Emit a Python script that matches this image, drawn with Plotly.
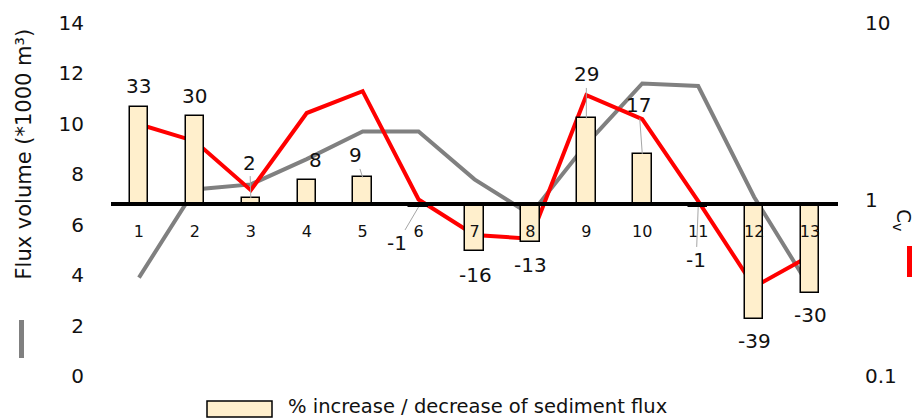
import plotly.graph_objects as go

# ---- data -------------------------------------------------------------
categories = ["1", "2", "3", "4", "5", "6", "7", "8", "9", "10", "11", "12", "13"]
flux_volume = [3.9, 7.4, 7.6, 8.6, 9.7, 9.7, 7.8, 6.4, 9.2, 11.6, 11.5, 7.1, 3.5]
cv_values = [2.67, 2.14, 1.13, 3.09, 4.11, 1.0, 0.63, 0.60, 3.9, 2.85, 0.98, 0.32, 0.48]
pct_change = [33, 30, 2, 8, 9, -1, -16, -13, 29, 17, -1, -39, -30]
left_ticks = [0, 2, 4, 6, 8, 10, 12, 14]
right_ticks = [0.1, 1, 10]
right_tick_text = ["0.1", "1", "10"]

# ---- layout geometry (pixels) ----------------------------------------
W, H = 915, 418
M_L, M_R, M_T, M_B = 111, 77, 23, 42
PW, PH = W - M_L - M_R, H - M_T - M_B
BASE_Y = 204                      # pixel row of the 0 % line
BASE_FRAC = (H - M_B - BASE_Y) / PH
PX_PER_PCT = 2.95
pct_lo = -BASE_FRAC * PH / PX_PER_PCT
pct_hi = pct_lo + PH / PX_PER_PCT


def px_x(px):
    return (px - M_L) / PW


def px_y(py):
    return (H - M_B - py) / PH


FONT = "DejaVu Sans"
TXT = "#111111"
BAR_FILL = "#FFEFCC"
GREY = "#808080"
RED = "#FF0000"

x_pos = list(range(1, len(categories) + 1))

fig = go.Figure()

fig.add_trace(go.Scatter(
    x=x_pos, y=flux_volume, mode="lines", yaxis="y",
    line=dict(color=GREY, width=4), showlegend=False, hoverinfo="skip"))

fig.add_trace(go.Scatter(
    x=x_pos, y=cv_values, mode="lines", yaxis="y2",
    line=dict(color=RED, width=4), showlegend=False, hoverinfo="skip"))

fig.add_trace(go.Bar(
    x=x_pos, y=pct_change, yaxis="y3", width=0.33,
    marker=dict(color=BAR_FILL, line=dict(color="#000000", width=1.5)),
    showlegend=False, hoverinfo="skip"))

# label offsets (ax, ay) in pixels from each bar end; leader flag draws a grey line
label_offsets = [(0, -21), (0, -20), (-1, -35.5), (8.5, -20), (-7, -22),
                 (-21.5, 36.5), (0.5, 23.5), (0, 23), (0, -44), (-3.5, -49),
                 (-2, 53.5), (0, 21.5), (0, 22.5)]
leaders = [False, False, True, False, True, True, False, False, True, True,
           True, False, False]

annotations = []
for xi, v, (ax, ay), lead in zip(x_pos, pct_change, label_offsets, leaders):
    annotations.append(dict(
        x=xi, y=v, xref="x", yref="y3", text=str(v),
        showarrow=True, arrowhead=0, arrowwidth=1, standoff=0,
        arrowcolor="#A6A6A6" if lead else "rgba(0,0,0,0)",
        ax=ax, ay=ay, axref="pixel", ayref="pixel",
        font=dict(family=FONT, size=20, color=TXT)))

# axis titles
annotations.append(dict(
    x=px_x(23), y=px_y(154.5), xref="paper", yref="paper",
    xanchor="center", yanchor="middle",
    text="Flux volume (*1000 m³)", textangle=-90, showarrow=False,
    font=dict(family=FONT, size=21, color=TXT)))
annotations.append(dict(
    x=px_x(903), y=px_y(220), xref="paper", yref="paper",
    xanchor="center", yanchor="middle",
    text="C<sub>v</sub>", textangle=90, showarrow=False,
    font=dict(family=FONT, size=20, color=TXT)))
# legend text
annotations.append(dict(
    x=px_x(286), y=px_y(406), xref="paper", yref="paper",
    xanchor="left", yanchor="middle",
    text="% increase / decrease of sediment flux", showarrow=False,
    font=dict(family=FONT, size=19.5, color=TXT)))

shapes = [
    # series keys beside the axis titles
    dict(type="line", xref="paper", yref="paper",
         x0=px_x(21.5), x1=px_x(21.5), y0=px_y(320), y1=px_y(358),
         line=dict(color=GREY, width=5)),
    dict(type="line", xref="paper", yref="paper",
         x0=px_x(909.5), x1=px_x(909.5), y0=px_y(246), y1=px_y(277),
         line=dict(color=RED, width=5)),
    # bar legend swatch
    dict(type="rect", xref="paper", yref="paper",
         x0=px_x(207), x1=px_x(272), y0=px_y(417), y1=px_y(401),
         fillcolor=BAR_FILL, line=dict(color="#000000", width=1.5)),
]

fig.update_layout(
    width=W, height=H,
    margin=dict(l=M_L, r=M_R, t=M_T, b=M_B, pad=0),
    paper_bgcolor="white", plot_bgcolor="white",
    font=dict(family=FONT, color=TXT),
    bargap=0, showlegend=False,
    xaxis=dict(
        range=[0.5, 13.5], tickvals=x_pos, ticktext=categories,
        anchor="free", position=BASE_FRAC,
        showline=True, linecolor="#000000", linewidth=4,
        ticks="outside", ticklen=12, tickcolor="rgba(0,0,0,0)",
        tickfont=dict(family=FONT, size=16, color=TXT),
        showgrid=False, zeroline=False),
    yaxis=dict(
        range=[0, 14], tickvals=left_ticks,
        showline=False, showgrid=False, zeroline=False,
        ticks="outside", ticklen=22, tickcolor="rgba(0,0,0,0)",
        tickfont=dict(family=FONT, size=20, color=TXT)),
    yaxis2=dict(
        overlaying="y", side="right", type="log", range=[-1, 1],
        tickvals=right_ticks, ticktext=right_tick_text,
        showline=False, showgrid=False, zeroline=False,
        ticks="outside", ticklen=22, tickcolor="rgba(0,0,0,0)",
        tickfont=dict(family=FONT, size=20, color=TXT)),
    yaxis3=dict(
        overlaying="y", range=[pct_lo, pct_hi], visible=False,
        showgrid=False, zeroline=False),
    annotations=annotations,
    shapes=shapes,
)

fig.write_html("out.html")
